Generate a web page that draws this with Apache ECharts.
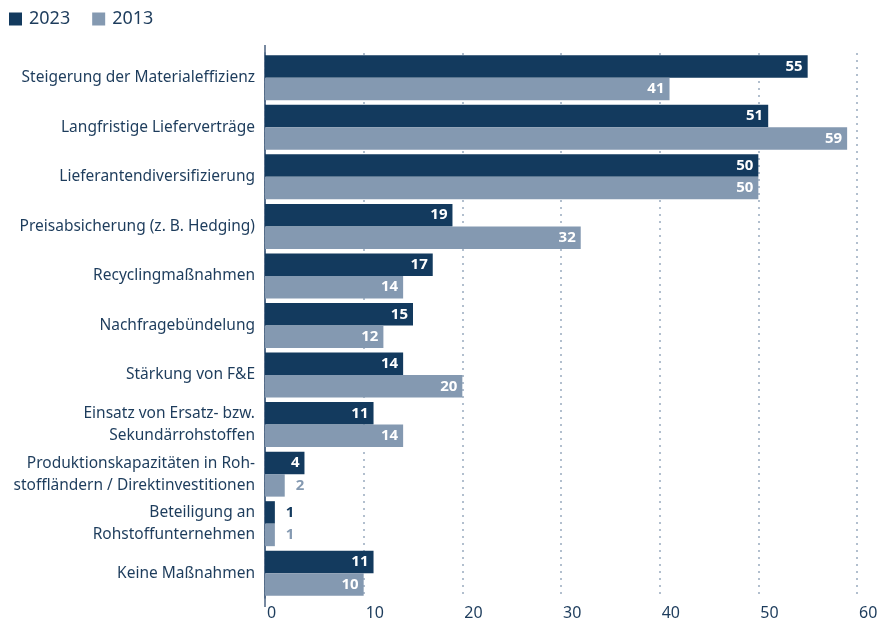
<!DOCTYPE html>
<html>
<head>
<meta charset="utf-8">
<script src="https://cdn.jsdelivr.net/npm/echarts@6/dist/echarts.min.js"></script>
<style>
  html, body { margin: 0; padding: 0; background: #fff; }
  #chart { width: 884px; height: 627px; }
</style>
</head>
<body>
<div id="chart"></div>
<script>
var categories = [
    'Steigerung der Materialeffizienz',
    'Langfristige Lieferverträge',
    'Lieferantendiversifizierung',
    'Preisabsicherung (z. B. Hedging)',
    'Recyclingmaßnahmen',
    'Nachfragebündelung',
    'Stärkung von F&E',
    'Einsatz von Ersatz- bzw.\nSekundärrohstoffen',
    'Produktionskapazitäten in Roh-\nstoffländern / Direktinvestitionen',
    'Beteiligung an\nRohstoffunternehmen',
    'Keine Maßnahmen'
];
var values2023 = [55, 51, 50, 19, 17, 15, 14, 11, 4, 1, 11];
var values2013 = [41, 59, 50, 32, 14, 12, 20, 14, 2, 1, 10];

var dark = '#133a5e';
var light = '#8499b1';
var textColor = '#1d3c5c';
var font = 'Noto Sans';

function barData(values, color) {
    return values.map(function (v) {
        var inside = v >= 4;
        return {
            value: v,
            label: {
                position: inside ? 'insideRight' : 'right',
                color: inside ? '#fff' : color,
                distance: inside ? 5 : 11
            }
        };
    });
}

var myChart = echarts.init(document.getElementById('chart'));
var option = {
    animation: false,
    textStyle: { fontFamily: font },
    legend: {
        left: 4,
        top: 5,
        itemWidth: 13,
        itemHeight: 13,
        itemGap: 22,
        icon: 'rect',
        textStyle: { fontSize: 18, color: textColor, fontFamily: font, padding: [0, 0, 0, 2] },
        data: ['2023', '2013']
    },
    grid: {
        left: 265,
        right: 27,
        top: 53,
        bottom: 29,
        containLabel: false
    },
    xAxis: {
        type: 'value',
        min: 0,
        max: 60,
        interval: 10,
        axisLine: { show: false },
        axisTick: { show: false },
        axisLabel: {
            color: textColor,
            fontSize: 16,
            align: 'left',
            margin: 7,
            padding: [0, 0, 0, 2],
            fontFamily: font
        },
        splitLine: {
            show: true,
            lineStyle: { type: [2, 5], color: '#99abbf', width: 1.5 }
        }
    },
    yAxis: {
        type: 'category',
        inverse: true,
        data: categories,
        axisTick: { show: false },
        axisLine: { show: true, lineStyle: { color: '#4a6280', width: 1.5 } },
        axisLabel: {
            color: textColor,
            fontSize: 15.5,
            margin: 10,
            lineHeight: 22,
            fontFamily: font
        }
    },
    graphic: [{
        type: 'line',
        shape: { x1: 265, y1: 45, x2: 265, y2: 607 },
        style: { stroke: '#4a6280', lineWidth: 1.5 },
        silent: true
    }],
    series: [
        {
            name: '2023',
            type: 'bar',
            barWidth: 22.5,
            barGap: '0%',
            itemStyle: { color: dark },
            label: { show: true, fontWeight: 'bold', fontSize: 15, fontFamily: font },
            data: barData(values2023, dark)
        },
        {
            name: '2013',
            type: 'bar',
            barWidth: 22.5,
            barGap: '0%',
            itemStyle: { color: light },
            label: { show: true, fontWeight: 'bold', fontSize: 15, fontFamily: font },
            data: barData(values2013, light)
        }
    ]
};
myChart.setOption(option);
</script>
</body>
</html>
